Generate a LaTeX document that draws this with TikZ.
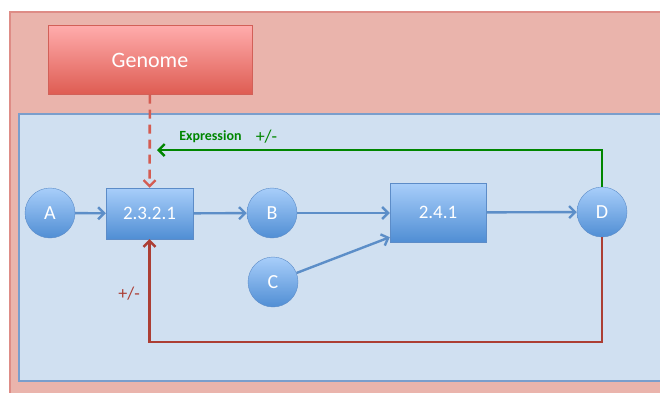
\documentclass[tikz,border=0pt]{standalone}
\usepackage{fontspec}
\setmainfont{Carlito}
\usetikzlibrary{arrows.meta}

\definecolor{outerfill}{RGB}{234,180,172}
\definecolor{outerline}{RGB}{222,140,134}
\definecolor{innerfill}{RGB}{208,224,241}
\definecolor{innerline}{RGB}{122,158,204}
\definecolor{nodetop}{RGB}{168,206,250}
\definecolor{nodebot}{RGB}{80,142,212}
\definecolor{nodeline}{RGB}{92,140,200}
\definecolor{flow}{RGB}{92,142,200}
\definecolor{genetop}{RGB}{255,172,172}
\definecolor{genebot}{RGB}{222,92,82}
\definecolor{geneline}{RGB}{210,96,88}
\definecolor{dashred}{RGB}{212,92,82}
\definecolor{loopred}{RGB}{172,62,52}
\definecolor{exprgreen}{RGB}{0,134,0}

\begin{document}
\begin{tikzpicture}[x=1pt,y=-1pt,
    species/.style={circle, minimum size=50pt, inner sep=0pt, draw=nodeline,
        top color=nodetop, bottom color=nodebot, text=white,
        font=\fontsize{20}{22}\selectfont},
    enzyme/.style={rectangle, inner sep=0pt, draw=nodeline,
        top color=nodetop, bottom color=nodebot, text=white,
        font=\fontsize{19}{21}\selectfont},
    flowarrow/.style={draw=flow, line width=2.4pt,
        -{Straight Barb[length=6pt,width=12pt,line width=2.4pt]}},
    tip/.style={-{Straight Barb[length=6pt,width=12pt,line width=2.4pt]}}
]
    \useasboundingbox (0,0) rectangle (660,392);
    \fill[white] (0,0) rectangle (660,392);
    % frames
    \begin{scope}
        \clip (0,0) rectangle (660,392);
        \draw[outerline, fill=outerfill, line width=1.2pt] (10,12) rectangle (680,410);
        \draw[innerline, fill=innerfill, line width=1.2pt] (19,114) rectangle (680,381);
    \end{scope}

    \node[rectangle, minimum width=204pt, minimum height=69pt, draw=geneline,
        top color=genetop, bottom color=genebot, text=white,
        font=\fontsize{22}{24}\selectfont] (genome) at (150,60) {Genome};

    \node[species] (A) at (50,213) {A};
    \node[enzyme, minimum width=87pt, minimum height=51pt] (e2321) at (149.5,213.5) {2.3.2.1};
    \node[species] (B) at (272,213) {B};
    \node[species] (C) at (273,282) {C};
    \node[enzyme, minimum width=96pt, minimum height=59pt] (e241) at (438,212.5) {2.4.1};
    \node[species] (D) at (602,212) {D};

    \coordinate (expr) at (157,150);
    \coordinate (loop) at (149.5,342);

    % pathway
    \draw[flowarrow] (A) -- (e2321);
    \draw[flowarrow] (e2321) -- (B);
    \draw[flowarrow] (B.east) -- (B.east -| e241.west);
    \draw[flowarrow] (C) -- ([yshift=5pt]e241.south west);
    \draw[flowarrow] (e241) -- (D);

    % regulation
    \draw[dashred, line width=2.6pt, dash pattern=on 9pt off 6pt, tip] (genome) -- (e2321);
    \draw[exprgreen, line width=2.6pt, tip] (D.north) |- (expr)
        node[pos=0.94, above=3pt, font=\bfseries\fontsize{14}{16}\selectfont] {Expression}
        node[pos=0.877, above=2pt, font=\fontsize{18}{20}\selectfont] {+/-};
    \draw[loopred, line width=2.6pt, tip] (D.south) |- (loop) -- (e2321)
        node[pos=0.47, left=5pt, font=\fontsize{18}{20}\selectfont] {+/-};
\end{tikzpicture}
\end{document}
